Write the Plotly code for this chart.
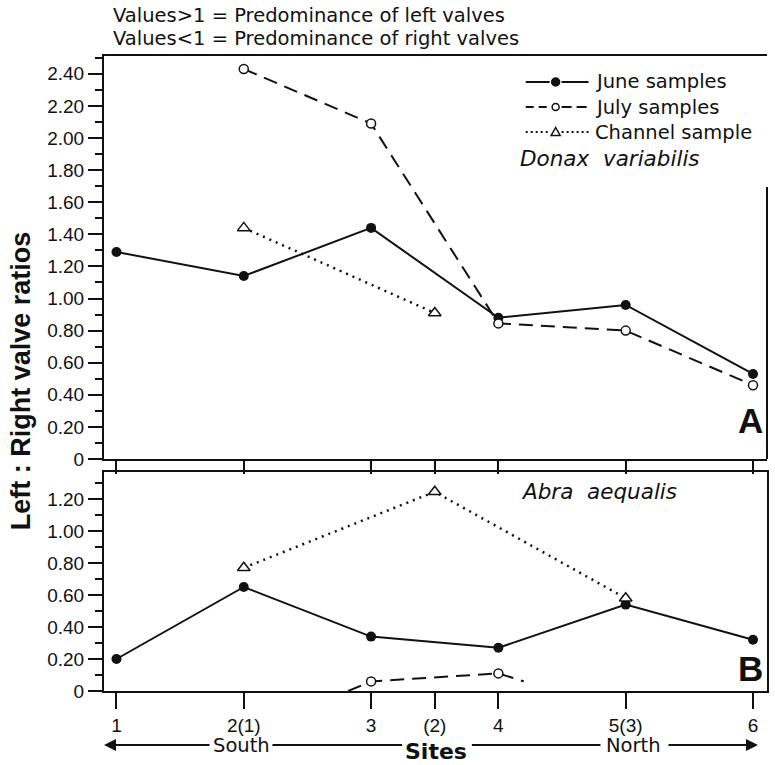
import plotly.graph_objects as go

# ---------------- data ----------------
site_pos = [1, 2, 3, 3.5, 4, 5, 6]
site_labels = ["1", "2(1)", "3", "(2)", "4", "5(3)", "6"]

# Panel A: Donax variabilis
june_a_x = [1, 2, 3, 4, 5, 6]
june_a_y = [1.29, 1.14, 1.44, 0.88, 0.96, 0.53]
july_a_x = [2, 3, 4, 5, 6]
july_a_y = [2.43, 2.09, 0.845, 0.80, 0.46]
chan_a_x = [2, 3.5]
chan_a_y = [1.44, 0.91]

# Panel B: Abra aequalis
june_b_x = [1, 2, 3, 4, 5, 6]
june_b_y = [0.20, 0.65, 0.34, 0.27, 0.54, 0.32]
chan_b_x = [2, 3.5, 5]
chan_b_y = [0.77, 1.245, 0.58]
july_b_x = [3, 4]
july_b_y = [0.06, 0.11]
# partially drawn dashed July line in panel B (stubs)
july_b_line_x = [2.82, 3, 4, 4.2]
july_b_line_y = [0.0, 0.06, 0.11, 0.06]

y_ticks_a = [0, 0.2, 0.4, 0.6, 0.8, 1.0, 1.2, 1.4, 1.6, 1.8, 2.0, 2.2, 2.4]
y_labels_a = ["0", "0.20", "0.40", "0.60", "0.80", "1.00", "1.20", "1.40",
              "1.60", "1.80", "2.00", "2.20", "2.40"]
y_ticks_b = [0, 0.2, 0.4, 0.6, 0.8, 1.0, 1.2]
y_labels_b = ["0", "0.20", "0.40", "0.60", "0.80", "1.00", "1.20"]

legend_names = ["June samples", "July samples", "Channel sample"]

# ---------------- layout geometry ----------------
W, H = 775, 765
ML, MR, MT, MB = 104, 6, 56, 74
PW, PH = W - ML - MR, H - MT - MB


def px_x(px):
    return (px - ML) / PW


def px_y(py):
    return (H - MB - py) / PH


FONT = "Liberation Sans, Arial, sans-serif"
WIDE = "DejaVu Sans, Verdana, sans-serif"
BLACK = "#111111"

fig = go.Figure()

june_style = dict(mode="lines+markers", line=dict(color=BLACK, width=2),
                  marker=dict(symbol="circle", size=10, color=BLACK))
july_style = dict(mode="lines+markers", line=dict(color=BLACK, width=2, dash="14px,8px"),
                  marker=dict(symbol="circle", size=9, color="white", line=dict(width=1.5, color=BLACK)))
chan_style = dict(mode="lines+markers", line=dict(color=BLACK, width=2.5, dash="2px,5px"),
                  marker=dict(symbol="triangle-up", size=11, color="white", line=dict(width=1.5, color=BLACK)))

# Panel A traces
fig.add_trace(go.Scatter(x=june_a_x, y=june_a_y, name=legend_names[0], xaxis="x", yaxis="y", **june_style))
fig.add_trace(go.Scatter(x=july_a_x, y=july_a_y, name=legend_names[1], xaxis="x", yaxis="y", **july_style))
fig.add_trace(go.Scatter(x=chan_a_x, y=chan_a_y, name=legend_names[2], xaxis="x", yaxis="y", **chan_style))

# Panel B traces
fig.add_trace(go.Scatter(x=june_b_x, y=june_b_y, xaxis="x2", yaxis="y2", **june_style))
fig.add_trace(go.Scatter(x=chan_b_x, y=chan_b_y, xaxis="x2", yaxis="y2", **chan_style))
fig.add_trace(go.Scatter(x=july_b_line_x, y=july_b_line_y, xaxis="x2", yaxis="y2",
                         mode="lines", line=dict(color=BLACK, width=2, dash="14px,8px")))
fig.add_trace(go.Scatter(x=july_b_x, y=july_b_y, xaxis="x2", yaxis="y2", mode="markers",
                         marker=dict(symbol="circle", size=9, color="white", line=dict(width=1.5, color=BLACK))))

xrange = [0.902, 6.11]
yA_bottom = 459
yA_range = [0, (yA_bottom - MT) / 160.5]
yB_top = 472
yB_range = [0, (H - MB - yB_top) / 160.0]

common_y = dict(showline=True, linecolor=BLACK, linewidth=2,
                ticks="outside", ticklen=14, tickwidth=2, tickcolor=BLACK,
                tickfont=dict(family=FONT, size=19, color=BLACK),
                showgrid=False, zeroline=False,
                minor=dict(ticks="outside", ticklen=7, tickwidth=2, tickcolor=BLACK,
                           tick0=0, dtick=0.1, showgrid=False))

fig.update_layout(
    width=W, height=H,
    margin=dict(l=ML, r=MR, t=MT, b=MB),
    paper_bgcolor="white", plot_bgcolor="white",
    font=dict(family=FONT, color=BLACK),
    showlegend=False,
    xaxis=dict(domain=[0, 1], range=xrange, anchor="y",
               tickvals=site_pos, ticktext=["" for _ in site_labels],
               showline=True, linecolor=BLACK, linewidth=2, mirror=True,
               ticks="outside", ticklen=13, tickwidth=2, tickcolor=BLACK,
               showgrid=False, zeroline=False),
    yaxis=dict(domain=[px_y(yA_bottom), 1], range=yA_range, mirror=False,
               tickvals=y_ticks_a, ticktext=y_labels_a, anchor="x", **common_y),
    xaxis2=dict(domain=[0, 1], range=xrange, anchor="y2",
                tickvals=site_pos, ticktext=site_labels,
                tickfont=dict(family=FONT, size=19, color=BLACK),
                showline=True, linecolor=BLACK, linewidth=2, mirror=True,
                ticks="outside", ticklen=16, tickwidth=2, tickcolor=BLACK,
                showgrid=False, zeroline=False),
    yaxis2=dict(domain=[0, px_y(yB_top)], range=yB_range, mirror=True,
                tickvals=y_ticks_b, ticktext=y_labels_b, anchor="x2", **common_y),
)


def label(text, x, y, size, family=WIDE, xanchor="left", angle=0):
    return dict(text=text, x=px_x(x), y=px_y(y), xref="paper", yref="paper",
                xanchor=xanchor, yanchor="middle", showarrow=False, textangle=angle,
                font=dict(family=family, size=size, color=BLACK))


ann = [
    label("Values&gt;1 = Predominance of left valves", 111, 15, 19.5),
    label("Values&lt;1 = Predominance of right valves", 111, 39, 19.5),
    label("<b>Left : Right valve ratios</b>", 21, 381, 27, family=FONT, xanchor="center", angle=-90),
    label("<i>Donax  variabilis</i>", 519, 158, 21.5),
    label("<i>Abra  aequalis</i>", 600, 492, 21.5, xanchor="center"),
    label("<b>A</b>", 752, 420, 35, family=FONT, xanchor="center"),
    label("<b>B</b>", 752, 668, 35, family=FONT, xanchor="center"),
    label("South", 242, 745, 19.5, xanchor="center"),
    label("North", 635, 745, 19.5, xanchor="center"),
    label("<b>Sites</b>", 437, 751, 22, xanchor="center"),
]
# legend texts
legend_rows = [82, 107, 132]
for name, yy in zip(legend_names, legend_rows):
    ann.append(label(name, 594, yy, 19.5))

# direction arrows (tail offset in pixels)
ann.append(dict(text="", x=px_x(104), y=px_y(745), ax=107, ay=0,
                xref="paper", yref="paper", axref="pixel", ayref="pixel",
                showarrow=True, arrowhead=2, arrowsize=1.2, arrowwidth=2, arrowcolor=BLACK))
ann.append(dict(text="", x=px_x(760), y=px_y(745), ax=-91, ay=0,
                xref="paper", yref="paper", axref="pixel", ayref="pixel",
                showarrow=True, arrowhead=2, arrowsize=1.2, arrowwidth=2, arrowcolor=BLACK))
fig.update_layout(annotations=ann)


def hline(x0, x1, y, dash="solid", width=2):
    return dict(type="line", xref="paper", yref="paper", x0=px_x(x0), x1=px_x(x1),
                y0=px_y(y), y1=px_y(y), line=dict(color=BLACK, width=width, dash=dash))


def pix_circle(x, y, r, fill):
    return dict(type="circle", xref="paper", yref="paper", xsizemode="pixel", ysizemode="pixel",
                xanchor=px_x(x), yanchor=px_y(y), x0=-r, x1=r, y0=-r, y1=r,
                fillcolor=fill, line=dict(color=BLACK, width=1.5))


shapes = [
    # bottom direction lines
    hline(273, 403, 745), hline(473, 602, 745),
    # right border of panel A (below legend)
    dict(type="line", xref="paper", yref="paper", x0=1, x1=1,
         y0=px_y(187), y1=px_y(yA_bottom), line=dict(color=BLACK, width=2)),
    # legend glyphs
    hline(527, 551, legend_rows[0]), hline(563, 590, legend_rows[0]),
    pix_circle(557, legend_rows[0], 4, BLACK),
    hline(527, 551, legend_rows[1], dash="8px,5px"), hline(563, 590, legend_rows[1], dash="10px,5px"),
    pix_circle(557, legend_rows[1], 3.5, "white"),
    hline(527, 551, legend_rows[2], dash="2px,3px"), hline(563, 590, legend_rows[2], dash="2px,3px"),
    dict(type="path", xref="paper", yref="paper", xsizemode="pixel", ysizemode="pixel",
         xanchor=px_x(557), yanchor=px_y(legend_rows[2]),
         path="M-4.5,-3.5 L4.5,-3.5 L0,4.5 Z", fillcolor="white", line=dict(color=BLACK, width=1.5)),
]
fig.update_layout(shapes=shapes)

fig.write_html("out.html", config={"displayModeBar": False},
               post_script="document.body.style.margin='0px';")
